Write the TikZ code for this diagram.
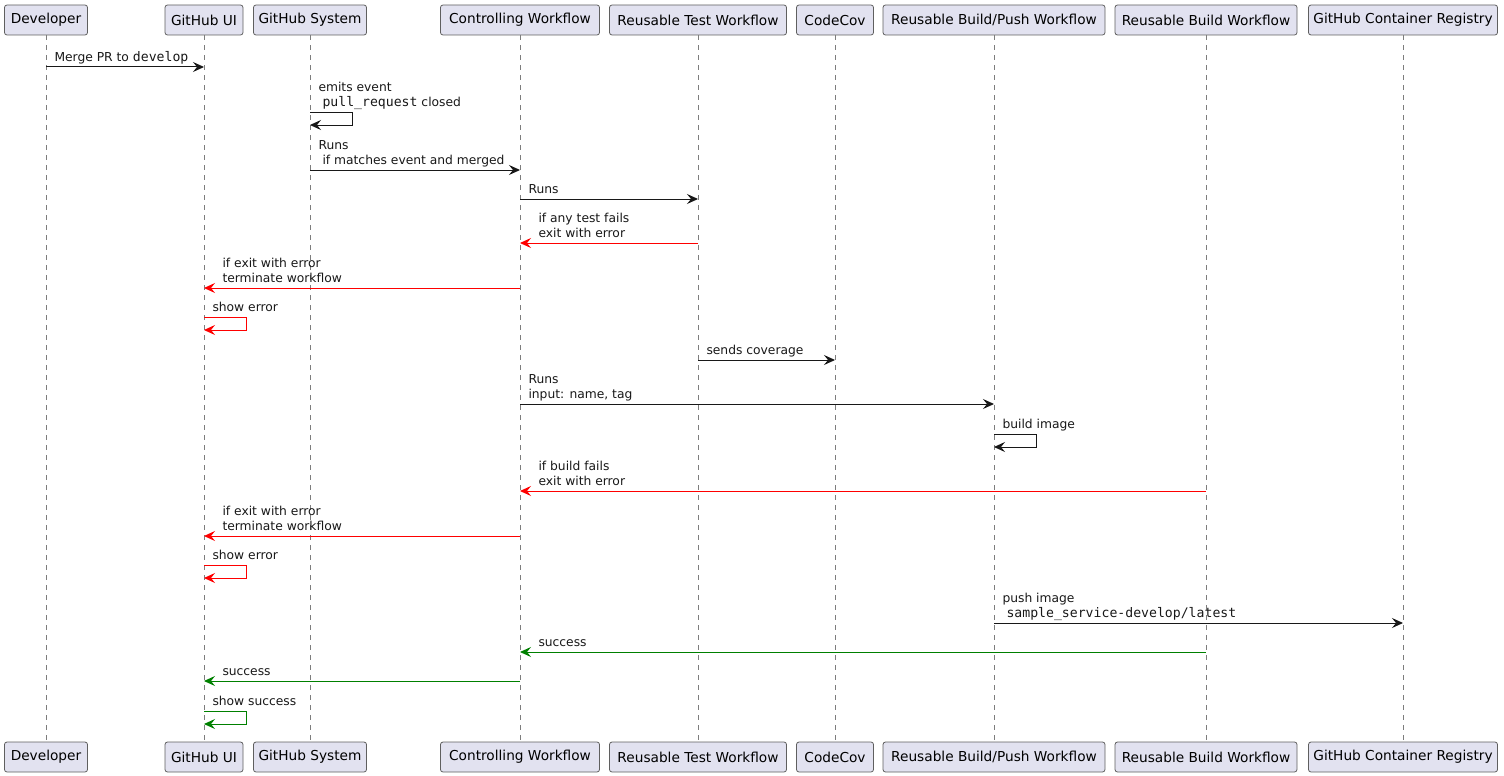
\documentclass[tikz,border=0pt]{standalone}
\usepackage{fontspec}
\setmainfont{DejaVu Sans}
\setmonofont[Scale=1.07]{DejaVu Sans Mono}
\usetikzlibrary{arrows.meta}
\definecolor{boxfill}{RGB}{226,226,240}
\definecolor{boxline}{RGB}{95,95,95}
\definecolor{lifegray}{RGB}{125,125,125}
\definecolor{msgblack}{RGB}{24,24,24}
\definecolor{errred}{RGB}{255,0,0}
\definecolor{okgreen}{RGB}{0,128,0}
\tikzset{
  party/.style={draw=boxline, fill=boxfill, rounded corners=2.5pt, minimum height=30pt, inner sep=0pt, line width=0.8pt, font=\fontsize{13.7}{16}\selectfont},
  lifeline/.style={draw=lifegray, line width=0.8pt, dash pattern=on 5pt off 5pt},
  msg/.style={-{Stealth[length=11pt, width=10pt, inset=4pt]}, line width=1pt, msgblack},
  lbl/.style={inner sep=0pt, align=left, text depth=3pt, anchor=south west, yshift=2pt, font=\fontsize{12.3}{15}\selectfont, text=msgblack}
}

\begin{document}
\begin{tikzpicture}[x=1pt, y=-1pt]
        \useasboundingbox (0,0) rectangle (1504,776);

        % Participants, top row
        \node[party, minimum width=83pt] (devT) at (46,20) {Developer};
        \node[party, minimum width=78pt] (uiT) at (204,20) {GitHub UI};
        \node[party, minimum width=113pt] (sysT) at (310,20) {GitHub System};
        \node[party, minimum width=159pt] (ctrlT) at (520,20) {Controlling Workflow};
        \node[party, minimum width=177pt] (testT) at (698,20) {Reusable Test Workflow};
        \node[party, minimum width=77pt] (covT) at (835,20) {CodeCov};
        \node[party, minimum width=222pt] (pushT) at (994,20) {Reusable Build/Push Workflow};
        \node[party, minimum width=182pt] (buildT) at (1206,20) {Reusable Build Workflow};
        \node[party, minimum width=189pt] (regT) at (1403,20) {GitHub Container Registry};

        % Participants, bottom row
        \node[party, minimum width=83pt] (devB) at (46,757) {Developer};
        \node[party, minimum width=78pt] (uiB) at (204,757) {GitHub UI};
        \node[party, minimum width=113pt] (sysB) at (310,757) {GitHub System};
        \node[party, minimum width=159pt] (ctrlB) at (520,757) {Controlling Workflow};
        \node[party, minimum width=177pt] (testB) at (698,757) {Reusable Test Workflow};
        \node[party, minimum width=77pt] (covB) at (835,757) {CodeCov};
        \node[party, minimum width=222pt] (pushB) at (994,757) {Reusable Build/Push Workflow};
        \node[party, minimum width=182pt] (buildB) at (1206,757) {Reusable Build Workflow};
        \node[party, minimum width=189pt] (regB) at (1403,757) {GitHub Container Registry};

        % Lifelines
        \draw[lifeline] (devT) -- (devB);
        \draw[lifeline] (uiT) -- (uiB);
        \draw[lifeline] (sysT) -- (sysB);
        \draw[lifeline] (ctrlT) -- (ctrlB);
        \draw[lifeline] (testT) -- (testB);
        \draw[lifeline] (covT) -- (covB);
        \draw[lifeline] (pushT) -- (pushB);
        \draw[lifeline] (buildT) -- (buildB);
        \draw[lifeline] (regT) -- (regB);

        % Trigger
        \draw[msg] (devT |- 0,67) node[lbl, xshift=8pt] {Merge PR to \texttt{develop}} -- (uiT |- 0,67);
        \draw[msg] (sysT |- 0,112) node[lbl, xshift=8pt] {emits event\\\hspace*{4pt}\texttt{pull\_request} closed} -- ++(42,0) -- ++(0,13) -- (sysT |- 0,125);
        \draw[msg] (sysT |- 0,170) node[lbl, xshift=8pt] {Runs\\\hspace*{4pt}if matches event and merged} -- (ctrlT |- 0,170);

        % Tests
        \draw[msg] (ctrlT |- 0,199) node[lbl, xshift=8pt] {Runs} -- (testT |- 0,199);
        \draw[msg, errred] (testT |- 0,243) -- (ctrlT |- 0,243) node[lbl, xshift=18pt] {if any test fails\\exit with error};
        \draw[msg, errred] (ctrlT |- 0,288) -- (uiT |- 0,288) node[lbl, xshift=18pt] {if exit with error\\terminate workflow};
        \draw[msg, errred] (uiT |- 0,317) node[lbl, xshift=8pt] {show error} -- ++(42,0) -- ++(0,13) -- (uiT |- 0,330);
        \draw[msg] (testT |- 0,360) node[lbl, xshift=8pt] {sends coverage} -- (covT |- 0,360);

        % Build and push
        \draw[msg] (ctrlT |- 0,404) node[lbl, xshift=8pt] {Runs\\input: name, tag} -- (pushT |- 0,404);
        \draw[msg] (pushT |- 0,434) node[lbl, xshift=8pt] {build image} -- ++(42,0) -- ++(0,13) -- (pushT |- 0,447);
        \draw[msg, errred] (buildT |- 0,491) -- (ctrlT |- 0,491) node[lbl, xshift=18pt] {if build fails\\exit with error};
        \draw[msg, errred] (ctrlT |- 0,536) -- (uiT |- 0,536) node[lbl, xshift=18pt] {if exit with error\\terminate workflow};
        \draw[msg, errred] (uiT |- 0,565) node[lbl, xshift=8pt] {show error} -- ++(42,0) -- ++(0,13) -- (uiT |- 0,578);
        \draw[msg] (pushT |- 0,623) node[lbl, xshift=8pt] {push image\\\hspace*{4pt}\texttt{sample\_service-develop/latest}} -- (regT |- 0,623);

        % Success
        \draw[msg, okgreen] (buildT |- 0,652) -- (ctrlT |- 0,652) node[lbl, xshift=18pt] {success};
        \draw[msg, okgreen] (ctrlT |- 0,681) -- (uiT |- 0,681) node[lbl, xshift=18pt] {success};
        \draw[msg, okgreen] (uiT |- 0,711) node[lbl, xshift=8pt] {show success} -- ++(42,0) -- ++(0,13) -- (uiT |- 0,724);

    \end{tikzpicture}
\end{document}
